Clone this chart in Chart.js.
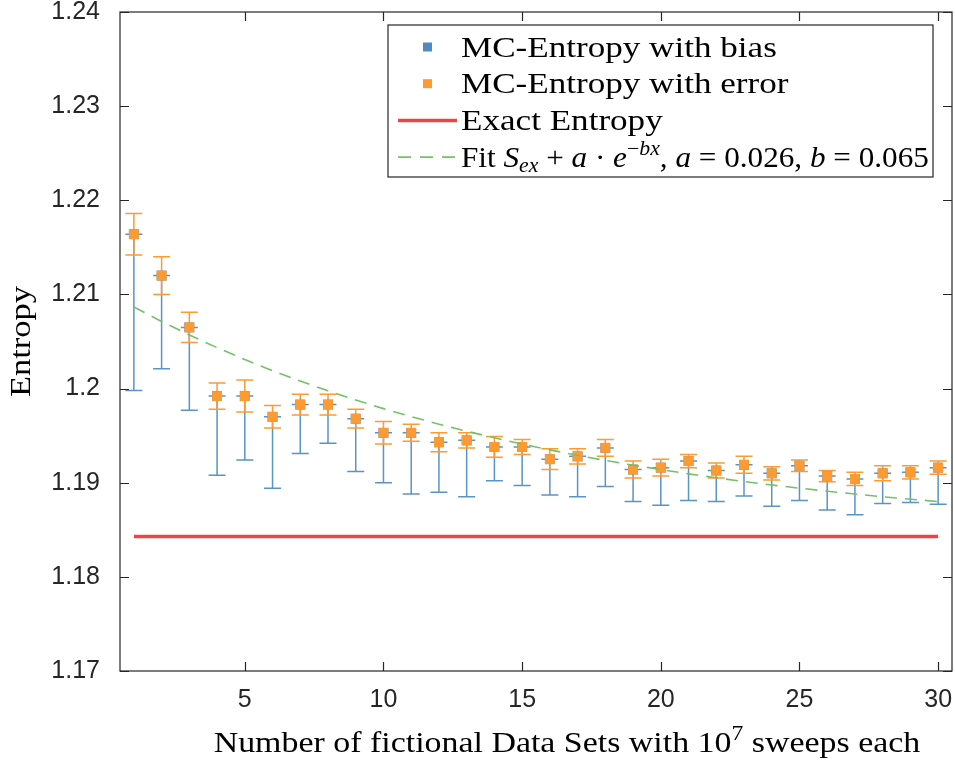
<!DOCTYPE html>
<html>
<head>
<meta charset="utf-8">
<script src="https://cdn.jsdelivr.net/npm/chart.js@4.4.1/dist/chart.umd.min.js"></script>
<style>
  html, body { margin: 0; background: #fff; }
  #wrap { width: 955px; height: 762px; }
</style>
</head>
<body>
<div id="wrap"><canvas id="entropyChart" width="955" height="762"></canvas></div>
<script>
// number of data sets (x) and the MC entropy estimate for each
const dataSets = [1, 2, 3, 4, 5, 6, 7, 8, 9, 10, 11, 12, 13, 14, 15,
                  16, 17, 18, 19, 20, 21, 22, 23, 24, 25, 26, 27, 28, 29, 30];
const mcEntropy = [1.2164, 1.2120, 1.2065, 1.1992, 1.1992, 1.1970, 1.1983, 1.1983, 1.1968, 1.1953,
                   1.1953, 1.1943, 1.1945, 1.1938, 1.1938, 1.1925, 1.1928, 1.1937, 1.1914, 1.1916,
                   1.1923, 1.1913, 1.1919, 1.1910, 1.1918, 1.1907, 1.1904, 1.1910, 1.1911, 1.1916];
// one-sided bias (bar goes downwards from the estimate)
const mcBias = [0.0166, 0.0099, 0.0088, 0.0084, 0.0068, 0.0076, 0.0052, 0.0041, 0.0056, 0.0053,
                0.0065, 0.0053, 0.0060, 0.0036, 0.0041, 0.0038, 0.0043, 0.0041, 0.0034, 0.0040,
                0.0042, 0.0033, 0.0033, 0.0035, 0.0037, 0.0036, 0.0038, 0.0032, 0.0032, 0.0039];
// symmetric statistical error
const mcError = [0.0022, 0.0020, 0.0016, 0.0014, 0.0017, 0.0012, 0.0011, 0.0011, 0.0010, 0.0012,
                 0.0009, 0.0010, 0.0008, 0.0011, 0.0008, 0.0011, 0.0008, 0.0009, 0.0009, 0.0009,
                 0.0007, 0.0008, 0.0009, 0.0007, 0.0006, 0.0006, 0.0007, 0.0008, 0.0007, 0.0007];
const exactEntropy = 1.1843;
// fitted curve S_ex + a*exp(-b*x), a = 0.026, b = 0.065
const fitCurve = [1.20866, 1.20713, 1.20569, 1.20435, 1.20309, 1.20190, 1.20080, 1.19976, 1.19878, 1.19787,
                  1.19702, 1.19622, 1.19547, 1.19477, 1.19411, 1.19349, 1.19291, 1.19237, 1.19186, 1.19139,
                  1.19094, 1.19052, 1.19013, 1.18976, 1.18942, 1.18910, 1.18880, 1.18851, 1.18825, 1.18800];

const xTicks = [5, 10, 15, 20, 25, 30];
const yTicks = [1.17, 1.18, 1.19, 1.20, 1.21, 1.22, 1.23, 1.24];
const yTickLabels = ['1.17', '1.18', '1.19', '1.2', '1.21', '1.22', '1.23', '1.24'];

const BLUE = '#4f8bc1';
const BLUE_BAR = '#5b93c6';
const ORANGE = '#fd9a31';
const RED = '#e8474a';
const GREEN = '#76c068';
const AXIS = '#262626';
const SERIF = '"Liberation Serif", "Times New Roman", serif';
const SANS = '"Liberation Sans", Arial, sans-serif';

// bias bars (blue) below the estimate, error bars (orange) around it
const errorBars = {
    id: 'errorBars',
    beforeDatasetsDraw(chart) {
        const { ctx, scales: { x, y } } = chart;
        const cap = 8.5;
        const bar = (px, y0, y1, color) => {
            ctx.strokeStyle = color;
            ctx.beginPath();
            ctx.moveTo(px, y0); ctx.lineTo(px, y1);
            ctx.moveTo(px - cap, y0); ctx.lineTo(px + cap, y0);
            ctx.moveTo(px - cap, y1); ctx.lineTo(px + cap, y1);
            ctx.stroke();
        };
        ctx.save();
        ctx.lineWidth = 1.5;
        dataSets.forEach((s, i) => {
            bar(x.getPixelForValue(s), y.getPixelForValue(mcEntropy[i]),
                y.getPixelForValue(mcEntropy[i] - mcBias[i]), BLUE_BAR);
        });
        dataSets.forEach((s, i) => {
            bar(x.getPixelForValue(s), y.getPixelForValue(mcEntropy[i] + mcError[i]),
                y.getPixelForValue(mcEntropy[i] - mcError[i]), ORANGE);
        });
        ctx.restore();
    }
};

// box with inward ticks on all four sides
const axesBox = {
    id: 'axesBox',
    afterDatasetsDraw(chart) {
        const { ctx, chartArea: a, scales: { x, y } } = chart;
        const len = 9;
        ctx.save();
        ctx.strokeStyle = AXIS;
        ctx.lineWidth = 1.2;
        ctx.strokeRect(a.left, a.top, a.right - a.left, a.bottom - a.top);
        ctx.beginPath();
        x.ticks.forEach(t => {
            const px = Math.round(x.getPixelForValue(t.value)) + 0.5;
            ctx.moveTo(px, a.bottom); ctx.lineTo(px, a.bottom - len);
            ctx.moveTo(px, a.top); ctx.lineTo(px, a.top + len);
        });
        y.ticks.forEach(t => {
            const py = Math.round(y.getPixelForValue(t.value)) + 0.5;
            ctx.moveTo(a.left, py); ctx.lineTo(a.left + len, py);
            ctx.moveTo(a.right, py); ctx.lineTo(a.right - len, py);
        });
        ctx.stroke();
        ctx.restore();
    }
};

// text with italic / sub / superscript runs, sx stretches glyphs horizontally
function richWidth(ctx, parts, size, sx) {
    return parts.reduce((w, p) => {
        const fs = (p.sub || p.sup) ? size * 0.7 : size;
        ctx.font = `${p.it ? 'italic ' : ''}${fs}px ${SERIF}`;
        return w + ctx.measureText(p.t).width * sx;
    }, 0);
}

function drawRich(ctx, parts, x, y, size, sx) {
    let cx = x;
    parts.forEach(p => {
        const fs = (p.sub || p.sup) ? size * 0.7 : size;
        ctx.font = `${p.it ? 'italic ' : ''}${fs}px ${SERIF}`;
        const dy = p.sub ? size * 0.2 : p.sup ? -size * 0.4 : 0;
        ctx.save();
        ctx.translate(cx, y + dy);
        ctx.scale(sx, 1);
        ctx.fillText(p.t, 0, 0);
        ctx.restore();
        cx += ctx.measureText(p.t).width * sx;
    });
}

const xTitle = [{ t: 'Number of fictional Data Sets with 10' }, { t: '7', sup: true }, { t: ' sweeps each' }];
const yTitle = [{ t: 'Entropy' }];

// axis titles in the serif face, with the 10^7 exponent raised
const axisTitles = {
    id: 'axisTitles',
    afterDraw(chart) {
        const { ctx, chartArea: a } = chart;
        ctx.save();
        ctx.fillStyle = '#000';
        ctx.textBaseline = 'alphabetic';
        const wx = richWidth(ctx, xTitle, 30, 1.13);
        drawRich(ctx, xTitle, (a.left + a.right) / 2 + 31 - wx / 2, 752, 30, 1.13);
        const wy = richWidth(ctx, yTitle, 30, 1.15);
        ctx.translate(30, (a.top + a.bottom) / 2);
        ctx.rotate(-Math.PI / 2);
        drawRich(ctx, yTitle, -wy / 2, 0, 30, 1.15);
        ctx.restore();
    }
};

const legendRows = [
    { kind: 'square', color: BLUE, sx: 1.21, parts: [{ t: 'MC-Entropy with bias' }] },
    { kind: 'square', color: ORANGE, sx: 1.21, parts: [{ t: 'MC-Entropy with error' }] },
    { kind: 'line', color: RED, sx: 1.21, parts: [{ t: 'Exact Entropy' }] },
    { kind: 'dash', color: GREEN, sx: 1.075, parts: [
        { t: 'Fit ' }, { t: 'S', it: true }, { t: 'ex', it: true, sub: true }, { t: ' + ' },
        { t: 'a', it: true }, { t: ' · ' }, { t: 'e', it: true }, { t: '−', sup: true },
        { t: 'bx', it: true, sup: true }, { t: ', ' }, { t: 'a', it: true }, { t: ' = 0.026, ' },
        { t: 'b', it: true }, { t: ' = 0.065' }] }
];

const boxLegend = {
    id: 'boxLegend',
    afterDraw(chart) {
        const { ctx, chartArea: a } = chart;
        const right = a.right - 19, top = a.top + 13;
        const left = right - 545, height = 152;
        const step = 36.7;
        ctx.save();
        ctx.fillStyle = '#fff';
        ctx.fillRect(left, top, right - left, height);
        ctx.strokeStyle = AXIS;
        ctx.lineWidth = 1.2;
        ctx.strokeRect(left, top, right - left, height);
        legendRows.forEach((r, i) => {
            const cy = top + 22 + i * step;
            if (r.kind === 'square') {
                ctx.fillStyle = r.color;
                ctx.fillRect(left + 35, cy - 4.5, 9, 9);
            } else {
                ctx.strokeStyle = r.color;
                ctx.lineWidth = r.kind === 'line' ? 3.5 : 1.6;
                ctx.setLineDash(r.kind === 'dash' ? [13, 9] : []);
                ctx.beginPath();
                ctx.moveTo(left + 10, cy); ctx.lineTo(left + 69, cy);
                ctx.stroke();
                ctx.setLineDash([]);
            }
            ctx.fillStyle = '#000';
            ctx.textBaseline = 'alphabetic';
            drawRich(ctx, r.parts, left + 73, cy + 9.5, 29, r.sx);
        });
        ctx.restore();
    }
};

new Chart(document.getElementById('entropyChart'), {
    type: 'scatter',
    data: {
        datasets: [
            {
                label: 'MC-Entropy with bias',
                data: dataSets.map((s, i) => ({ x: s, y: mcEntropy[i] })),
                pointStyle: 'rect', pointRadius: 7, borderWidth: 0,
                backgroundColor: BLUE, order: 3
            },
            {
                label: 'MC-Entropy with error',
                data: dataSets.map((s, i) => ({ x: s, y: mcEntropy[i] })),
                pointStyle: 'rect', pointRadius: 7, borderWidth: 0,
                backgroundColor: ORANGE, order: 2
            },
            {
                label: 'Exact Entropy',
                type: 'line',
                data: [{ x: dataSets[0], y: exactEntropy }, { x: dataSets[dataSets.length - 1], y: exactEntropy }],
                borderColor: RED, borderWidth: 3.5, pointRadius: 0, order: 1
            },
            {
                label: 'Fit',
                type: 'line',
                data: dataSets.map((s, i) => ({ x: s, y: fitCurve[i] })),
                borderColor: GREEN, borderWidth: 1.6, borderDash: [12, 8], pointRadius: 0, order: 0
            }
        ]
    },
    options: {
        responsive: false,
        animation: false,
        devicePixelRatio: 1,
        layout: { autoPadding: false, padding: { top: 12, right: 3, left: 0, bottom: 0 } },
        plugins: { legend: { display: false }, tooltip: { enabled: false } },
        scales: {
            x: {
                type: 'linear', min: 0.5, max: 30.5,
                afterBuildTicks: s => { s.ticks = xTicks.map(v => ({ value: v })); },
                afterFit: s => { s.height = 91; s.paddingLeft = 0; s.paddingRight = 0; },
                grid: { display: true, drawOnChartArea: false, drawTicks: false },
                border: { display: false },
                ticks: { color: AXIS, padding: 14, maxRotation: 0, font: { family: SANS, size: 25 } }
            },
            y: {
                type: 'linear', min: 1.17, max: 1.24,
                afterBuildTicks: s => { s.ticks = yTicks.map(v => ({ value: v })); },
                afterFit: s => { s.width = 120; s.paddingTop = 0; s.paddingBottom = 0; },
                grid: { display: true, drawOnChartArea: false, drawTicks: false },
                border: { display: false },
                ticks: { color: AXIS, padding: 20, font: { family: SANS, size: 25 },
                         callback: (v, i) => yTickLabels[i] }
            }
        }
    },
    plugins: [errorBars, axesBox, boxLegend, axisTitles]
});
</script>
</body>
</html>
